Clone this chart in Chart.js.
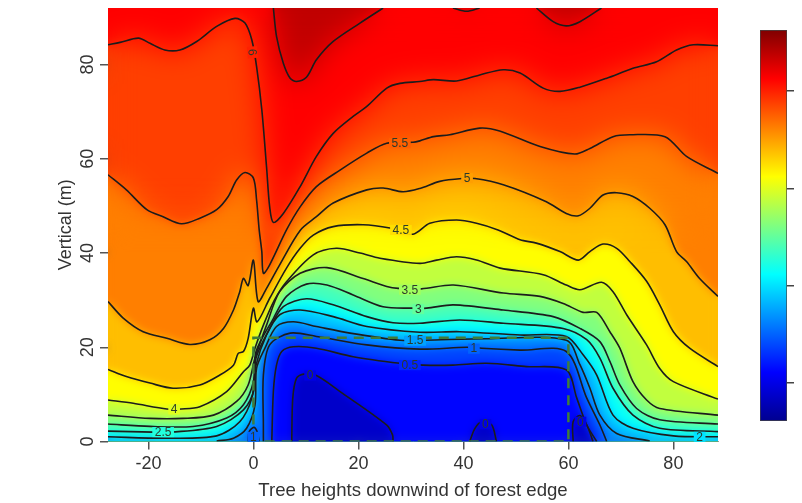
<!DOCTYPE html>
<html>
<head>
<meta charset="utf-8">
<style>
html, body { margin: 0; padding: 0; background: #fff; }
#wrap { position: relative; width: 802px; height: 503px; overflow: hidden; }
canvas { position: absolute; left: 0; top: 0; filter: blur(0.5px); }
</style>
<script src="https://cdn.jsdelivr.net/npm/chart.js@4"></script>
</head>
<body>
<div id="wrap">
<canvas id="mycanvas" width="802" height="503"></canvas>
<canvas id="barcanvas" width="802" height="503"></canvas>
</div>
<script>
var xTickValues = [-20, 0, 20, 40, 60, 80];
var yTickValues = [0, 20, 40, 60, 80];
var barTickValues = [0, 2, 4, 6];
var barRange = [-0.78, 7.25];

// colour scale stops: wind speed, r, g, b
var jetStops = [[-0.78,0,0,143],[0.22,0,0,255],[2.23,0,255,255],[4.24,255,255,0],[6.25,255,0,0],[7.25,128,0,0]];

// contour lines, [tree heights, metres]
var level65a = [[3.8,92],[4.4,86],[5.7,80.3],[7,77.1],[8.2,76.4],[10.1,77.3],[12,81],[15.2,84.9],[20.3,88.8],[24.7,92]];
var level65b = [[38,92],[40.6,91.3],[43.1,92]];
var level65c = [[53.9,92],[57.1,89.1],[59.6,88.2],[62.2,89.1],[66.3,92]];
var level6 = [[-27.7,84.2],[-25.4,84.7],[-21.9,85.6],[-19.7,84.5],[-16.9,83.1],[-14,83.1],[-10.8,84.9],[-7,88.1],[-3.5,89.8],[-1.6,88.8],[-0.3,85.2],[0.6,79.6],[1.6,70.4],[2.5,58.3],[3.1,49.8],[3.8,46.5],[5.7,48.4],[8.9,54.1],[12,60.5],[15.2,65.4],[19,69],[21.6,71.1],[25.4,75],[27.9,76],[31.7,76.4],[34.3,76.8],[38.7,76.5],[43.1,77.8],[47.6,78.9],[50.8,78.2],[55.2,75],[58.4,74.3],[62.2,75.2],[67.3,77.1],[72.3,79.2],[76.8,80.6],[80.6,83.1],[83.8,84.2],[88.5,84]];
var level55 = [[-27.7,56.6],[-24.2,53.4],[-20.3,49.2],[-17.2,47.7],[-13.7,46.2],[-10.2,47.4],[-7,49.2],[-4.8,52],[-3.2,55.5],[-1.6,57.1],[0,55.9],[0.6,51.3],[1.1,44.9],[1.6,40.3],[1.9,35.7],[3.1,37.5],[6.3,44.9],[8.9,49.8],[12,54.1],[16.5,57.6],[21.6,61.2],[25.4,63.3],[30.4,63.5],[31.7,63.8],[34.3,64.7],[37.4,65.1],[43.1,66.5],[46.9,65.9],[54.6,62.6],[61.2,61],[64.1,62.2],[68.5,64.7],[71.7,65.1],[78.4,64.7],[82.5,60.5],[88.5,56.9]];
var level5 = [[-27.7,29.7],[-24.8,26.2],[-21,23.3],[-16.5,21.9],[-12.1,20.6],[-8.3,21.6],[-5.7,24],[-3.8,27.9],[-2.6,31.8],[-1.9,34.6],[-1,33.1],[0,38.5],[0.9,29.7],[2.5,32.5],[5,37.5],[8.9,44.8],[12,47.7],[15.2,50.6],[21.6,53.4],[24.7,53.8],[28.5,53],[31.7,53.7],[35.5,55.2],[39.7,55.8],[42.2,55.8],[47.6,54.5],[55.8,50.9],[59.6,48.4],[61.9,47.9],[64.1,49.5],[66.6,52.3],[69.2,52.8],[72.3,52],[75.5,49.5],[78.4,46],[80.6,40.3],[82.5,38.2],[85,34.6],[88.5,30.8]];
var level45 = [[-27.7,15.3],[-24.2,13.8],[-19.7,12.4],[-15.3,11.3],[-10.2,12],[-6.4,14.1],[-3.8,16.2],[-2.9,18.7],[-1.9,19.1],[-1,21.9],[0,28.3],[0.7,25.4],[3.1,30.4],[6.3,36.8],[8.9,41],[11.4,43.8],[15.2,45.6],[20.9,46],[26,45.3],[30.4,44],[33.6,46.3],[38.7,47],[42.5,46.3],[46.6,44.9],[50.8,42.8],[53.9,42.1],[58.4,40.3],[61.9,38.5],[64.1,40.3],[66.6,41.9],[69.2,41],[71.7,38.2],[74.9,34],[77.4,29],[80,23.3],[83.1,19.8],[88.5,15.9]];
var level4 = [[-27.7,8.8],[-22.9,8.1],[-16.5,6.9],[-13.7,6.9],[-10.2,7.4],[-5.1,10.6],[-1.9,14.8],[-0.7,16.2],[0.3,19.8],[1.9,24.7],[4,30],[6.3,33.9],[11.4,39.6],[15.8,41],[20.3,40],[24.1,38.9],[31.7,37.8],[34.9,38.5],[38.7,39.2],[42.5,38.5],[47,36.8],[55.2,35.4],[59.6,33.2],[62.2,32.2],[66.3,33.8],[68.5,31.8],[71.1,26.9],[74.9,20.5],[77.4,15.5],[80,12.7],[88.5,9]];
var level35 = [[-27.7,5.6],[-19.7,4.9],[-13.4,4.9],[-7.6,5.6],[-3.2,8.5],[-1,12],[0.3,17.7],[2.5,24.7],[5,31.8],[8.9,35.7],[14,36.9],[20.9,34.6],[25.4,32.9],[27.6,32.5],[32,32.4],[38.1,33.2],[47.6,31.5],[54.6,30.8],[59,29.3],[62.8,27.4],[65.4,27.4],[67.9,23.3],[69.8,19.8],[72.3,12.7],[74.9,8.8],[77.4,7],[88.5,5.6]];
var level3 = [[-27.7,3.7],[-19.7,3.2],[-11.5,3.2],[-5.1,5],[-1.9,7.8],[0,12.7],[0.5,19.1],[3.8,26.1],[6.3,30.8],[10.1,33.4],[14,33.2],[19,31.1],[24.7,28.6],[30.1,28.3],[33,28.3],[38.1,29],[47.6,27.9],[57.1,26.5],[62.2,24],[66,21.2],[67.9,17],[69.8,12],[73,7],[77.4,4.6],[88.5,3.7]];
var level25 = [[-27.7,2.2],[-19.1,2],[-15.6,2],[-7,3.2],[-1.9,6.7],[0.2,11.3],[0.5,17.7],[3.1,24],[5.7,28.6],[10.1,30.3],[15.2,29],[21.6,26.5],[26.6,25.2],[31.7,25.1],[39.3,25.8],[47.6,25.1],[59,24],[63.5,21.6],[66,17.7],[68.5,11.3],[72.3,5.6],[77.4,2.8],[88.5,2.1]];
var level2 = [[-27.7,1],[-16.5,0.7],[-7,1.2],[-2.6,4.2],[-0.3,9.2],[0.5,16.2],[2.5,22.6],[5,26.9],[8.9,27.9],[15.2,26.5],[21.6,24.4],[31.7,23.2],[39.3,23.3],[50.8,22.6],[59.6,22.3],[62.8,18.4],[65.4,14.1],[68.5,5.6],[72.3,2.8],[80,1.2],[88.5,1]];
var level15 = [[-7,0.1],[-3.8,0.7],[-1.3,2.8],[0.3,7.7],[0.6,15.5],[2.2,19.8],[4.4,24.4],[7.6,25.4],[12,24.4],[18.4,23],[27.9,21.5],[32.7,21.5],[44.4,21.8],[59.6,21.5],[62.2,16.3],[64.1,11.3],[66,5.6],[69.2,1.7],[75.5,0.1]];
var level1 = [[1.9,0],[1.9,3.5],[1.9,14.1],[3.1,20.5],[7,23],[12,22.3],[21.6,20.5],[31.7,19.6],[40.6,20],[43.5,19.8],[50.8,19.4],[59.6,19.1],[63.5,9.2],[66,3.5],[67.3,0]];
var level1b = [[-1,0],[-0.8,2.1],[0.1,3],[0.7,2.1],[1.1,0]];
var level05 = [[3.5,0],[3.8,10.6],[4.4,16.2],[5.4,19.1],[7.6,20.1],[12,19.8],[19,18],[27.9,16.6],[32.3,16.2],[38,16.2],[44.4,16.6],[52,15.9],[59.6,15.2],[61.6,9.2],[63.5,3.5],[65.4,0]];
var level0a = [[7.3,0],[7.5,9.2],[8.2,13.4],[9.6,14.3],[12,14],[16.5,10.6],[25.4,3.5],[26.5,1.4],[26.6,0]];
var level0b = [[41.2,0],[42.2,2.8],[43.5,4.2],[45.4,3.5],[46.3,0]];
var level0c = [[60.9,0],[60.9,4.2],[62.2,5.5],[63.5,3.5],[64.7,0]];

var forestEdge = [[0,0],[0,22],[60,22],[60,0],[0,0]];

// text, x, y, level underneath, rotation
var contourLabels = [
    ['6',-0.2,82.6,6,85],['5.5',27.9,63.3,5.5,0],['5',40.7,55.9,5,0],['4.5',28.1,44.9,4.5,0],
    ['4',-15.1,6.8,4,0],['3.5',29.8,32.2,3.5,0],['3',31.4,28.1,3,0],['2.5',-17.2,2,2.5,0],
    ['2',85,1,2,0],['1.5',30.8,21.4,1.5,0],['1',42,19.7,1,0],['0.5',29.8,16.2,0.5,0],
    ['0',10.8,14,0,0],['0',44.2,3.7,0,0],['0',62.3,4.2,0,0],['1',0,1,1,0]
];

function speedColor(v) {
    for (var i = 1; i < jetStops.length; i++) {
        var a = jetStops[i - 1], b = jetStops[i];
        if (v <= b[0]) {
            var t = (v - a[0]) / (b[0] - a[0]);
            return 'rgb(' + Math.round(a[1] + (b[1] - a[1]) * t) + ',' + Math.round(a[2] + (b[2] - a[2]) * t) + ',' + Math.round(a[3] + (b[3] - a[3]) * t) + ')';
        }
    }
    return 'rgb(128,0,0)';
}

function toPoints(list) {
    return list.map(function(p) { return {x: p[0], y: p[1]}; });
}

// painted from the top level down, each one covers what lies beneath it
var bands = [
    [level6, 'end', 6.25], [level65a, 'end', 6.75], [level65b, 'end', 6.75], [level65c, 'end', 6.75],
    [level6, 'start', 5.75], [level55, 'start', 5.25], [level5, 'start', 4.75], [level45, 'start', 4.25],
    [level4, 'start', 3.75], [level35, 'start', 3.25], [level3, 'start', 2.75], [level25, 'start', 2.25],
    [level2, 'start', 1.75], [level15, 'start', 1.25], [level1, 'start', 0.75], [level1b, 'start', 0.75],
    [level05, 'start', 0.25], [level0a, 'start', -0.25], [level0b, 'start', -0.25], [level0c, 'start', -0.25]
];
var lines = [level65a, level65b, level65c, level6, level55, level5, level45, level4, level35, level3, level25, level2, level15, level1, level1b, level05, level0a, level0b, level0c];

var datasets = [];
bands.forEach(function(b, i) {
    datasets.push({
        type: 'line',
        data: toPoints(b[0]),
        fill: b[1],
        backgroundColor: speedColor(b[2]),
        borderWidth: 0,
        pointRadius: 0,
        tension: 0.3,
        order: 100 - i
    });
});
lines.forEach(function(l) {
    datasets.push({
        type: 'line',
        contour: true,
        data: toPoints(l),
        fill: false,
        borderColor: '#1c1c1c',
        borderWidth: 1.6,
        pointRadius: 0,
        tension: 0.3,
        order: 2
    });
});
datasets.push({
    type: 'line',
    data: toPoints(forestEdge),
    fill: false,
    borderColor: '#3f7d3a',
    borderWidth: 2.5,
    borderDash: [10, 7],
    pointRadius: 0,
    tension: 0,
    order: 1
});

// soften the flat bands into a gradient, more where the bands are wide
var smoothed = false;
var blurBands = {
    id: 'blurBands',
    beforeDraw: function() { smoothed = false; },
    beforeDatasetDraw: function(chart, args) {
        if (smoothed || !chart.data.datasets[args.index].contour) return;
        smoothed = true;
        var ctx = chart.ctx, a = chart.chartArea;
        ctx.save();
        ctx.beginPath();
        ctx.rect(a.left, a.top, a.width, a.height);
        ctx.clip();
        ctx.filter = 'blur(4px)';
        ctx.drawImage(chart.canvas, 0, 0);
        ctx.filter = 'none';

        var off = document.createElement('canvas');
        off.width = chart.canvas.width;
        off.height = chart.canvas.height;
        var o = off.getContext('2d');
        o.filter = 'blur(14px)';
        o.drawImage(chart.canvas, 0, 0);
        o.filter = 'none';
        var fade = o.createLinearGradient(0, chart.scales.y.getPixelForValue(56), 0, chart.scales.y.getPixelForValue(40));
        fade.addColorStop(0, 'rgba(0,0,0,1)');
        fade.addColorStop(1, 'rgba(0,0,0,0)');
        o.globalCompositeOperation = 'destination-in';
        o.fillStyle = fade;
        o.fillRect(0, 0, off.width, off.height);
        ctx.drawImage(off, 0, 0);
        ctx.restore();
    }
};

var labelPlugin = {
    id: 'contourLabels',
    afterDatasetsDraw: function(chart) {
        var ctx = chart.ctx;
        ctx.save();
        ctx.font = '12px "Liberation Sans"';
        ctx.textAlign = 'center';
        ctx.textBaseline = 'middle';
        contourLabels.forEach(function(l) {
            var w = ctx.measureText(l[0]).width + 5;
            ctx.save();
            ctx.translate(chart.scales.x.getPixelForValue(l[1]), chart.scales.y.getPixelForValue(l[2]));
            ctx.rotate(l[4] * Math.PI / 180);
            ctx.fillStyle = speedColor(l[3]);
            ctx.fillRect(-w / 2, -5, w, 10);
            ctx.fillStyle = '#2b3a2b';
            ctx.fillText(l[0], 0, 0.5);
            ctx.restore();
        });
        ctx.restore();
    }
};

var tickFont = {family: '"Liberation Sans"', size: 18};

new Chart(document.getElementById('mycanvas'), {
    type: 'line',
    data: {datasets: datasets},
    plugins: [blurBands, labelPlugin],
    options: {
        responsive: false,
        animation: false,
        layout: {padding: {top: 8, right: 84, left: 0, bottom: 0}},
        plugins: {legend: {display: false}, tooltip: {enabled: false}},
        scales: {
            x: {
                type: 'linear',
                min: -27.7,
                max: 88.5,
                afterBuildTicks: function(axis) {
                    axis.ticks = xTickValues.map(function(v) { return {value: v}; });
                },
                afterFit: function(axis) { axis.height = 61.5; },
                grid: {drawOnChartArea: false, tickLength: 8, color: '#555', lineWidth: 1.5},
                border: {display: true, color: '#333'},
                ticks: {color: '#333', font: tickFont, padding: 4, maxRotation: 0, autoSkip: false},
                title: {display: true, text: 'Tree heights downwind of forest edge', color: '#333', font: {family: '"Liberation Sans"', size: 18.6}, padding: {top: 0, bottom: 1}}
            },
            y: {
                type: 'linear',
                min: 0,
                max: 92,
                afterBuildTicks: function(axis) {
                    axis.ticks = yTickValues.map(function(v) { return {value: v}; });
                },
                afterFit: function(axis) {
                    axis.width = 108;
                    axis.paddingTop = 0;
                    axis.paddingBottom = 0;
                },
                grid: {drawOnChartArea: false, tickLength: 8, color: '#555', lineWidth: 1.5},
                border: {display: false},
                ticks: {color: '#333', font: tickFont, padding: 2, minRotation: 90, maxRotation: 90, crossAlign: 'center', autoSkip: false},
                title: {display: true, text: 'Vertical (m)', color: '#333', font: {family: '"Liberation Sans"', size: 18}, padding: {top: 55, bottom: 0}}
            }
        }
    }
});

new Chart(document.getElementById('barcanvas'), {
    type: 'bar',
    data: {
        labels: [''],
        datasets: [{
            data: [barRange],
            barPercentage: 1,
            categoryPercentage: 1,
            borderWidth: 1,
            borderColor: '#444',
            borderSkipped: false,
            backgroundColor: function(context) {
                var chart = context.chart, a = chart.chartArea;
                if (!a) return '#888';
                var g = chart.ctx.createLinearGradient(0, a.bottom, 0, a.top);
                jetStops.forEach(function(s) {
                    g.addColorStop((s[0] - barRange[0]) / (barRange[1] - barRange[0]), speedColor(s[0]));
                });
                return g;
            }
        }]
    },
    options: {
        responsive: false,
        animation: false,
        layout: {padding: {top: 30, right: 0, left: 760, bottom: 82}},
        plugins: {legend: {display: false}, tooltip: {enabled: false}},
        scales: {
            x: {display: false},
            y: {
                position: 'right',
                min: barRange[0],
                max: barRange[1],
                afterBuildTicks: function(axis) {
                    axis.ticks = barTickValues.map(function(v) { return {value: v}; });
                },
                afterFit: function(axis) { axis.width = 15; },
                grid: {drawOnChartArea: false, tickLength: 7, color: '#444', lineWidth: 1.5},
                border: {display: false},
                ticks: {display: false}
            }
        }
    }
});
</script>
</body>
</html>
